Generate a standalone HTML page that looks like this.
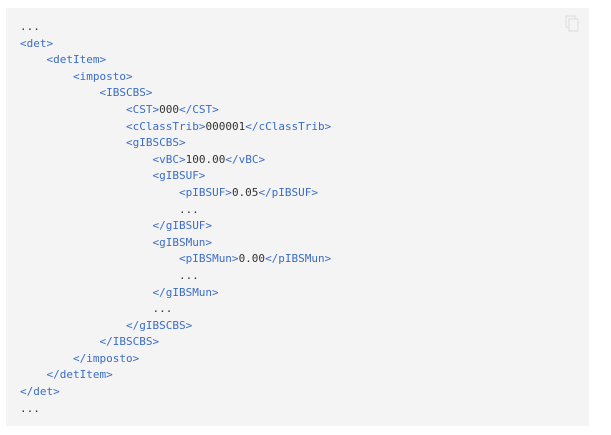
<!DOCTYPE html><html><head><style>
body{margin:0;background:#fff;width:611px;height:435px;position:relative;overflow:hidden}
.box{position:absolute;left:6px;top:8px;width:583px;height:418px;background:#f4f4f4}
pre{position:absolute;left:20px;top:19px;margin:0;font:11px/16.6px "DejaVu Sans Mono",monospace;color:#333}
.t{color:#3b6cc7}
.ic{position:absolute;left:565px;top:15px}
</style></head><body><div class="box"></div>
<svg class="ic" width="14" height="17"><rect x="1" y="1" width="9" height="11" fill="none" stroke="#ddd"/><rect x="4" y="4" width="9" height="12" fill="#f4f4f4" stroke="#ddd"/></svg>
<pre>...
<span class="t">&lt;det&gt;</span>
    <span class="t">&lt;detItem&gt;</span>
        <span class="t">&lt;imposto&gt;</span>
            <span class="t">&lt;IBSCBS&gt;</span>
                <span class="t">&lt;CST&gt;</span>000<span class="t">&lt;/CST&gt;</span>
                <span class="t">&lt;cClassTrib&gt;</span>000001<span class="t">&lt;/cClassTrib&gt;</span>
                <span class="t">&lt;gIBSCBS&gt;</span>
                    <span class="t">&lt;vBC&gt;</span>100.00<span class="t">&lt;/vBC&gt;</span>
                    <span class="t">&lt;gIBSUF&gt;</span>
                        <span class="t">&lt;pIBSUF&gt;</span>0.05<span class="t">&lt;/pIBSUF&gt;</span>
                        ...
                    <span class="t">&lt;/gIBSUF&gt;</span>
                    <span class="t">&lt;gIBSMun&gt;</span>
                        <span class="t">&lt;pIBSMun&gt;</span>0.00<span class="t">&lt;/pIBSMun&gt;</span>
                        ...
                    <span class="t">&lt;/gIBSMun&gt;</span>
                    ...
                <span class="t">&lt;/gIBSCBS&gt;</span>
            <span class="t">&lt;/IBSCBS&gt;</span>
        <span class="t">&lt;/imposto&gt;</span>
    <span class="t">&lt;/detItem&gt;</span>
<span class="t">&lt;/det&gt;</span>
...</pre></body></html>
